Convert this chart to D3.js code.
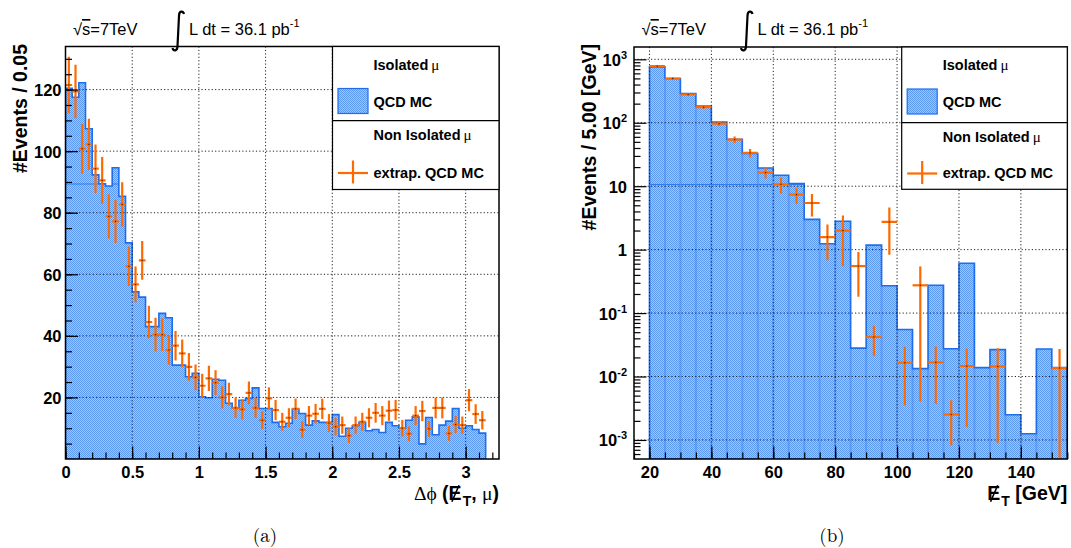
<!DOCTYPE html>
<html><head><meta charset="utf-8">
<script src="https://cdn.jsdelivr.net/npm/d3@7"></script>
<style>body{margin:0;background:#fff}svg{display:block}</style>
</head><body>
<svg id="c" width="1071" height="548"></svg>
<script>
// ---- Δφ(MET, μ): 63 bins of width 0.05 starting at 0 ----
const dphiLow = 0, dphiBinWidth = 0.05;
const dphiMC = [120.4,117.5,122.2,107.3,92.3,89.4,88.7,94.6,85.3,70.2,
  54.3,52.6,43,43,47.3,45.9,30.5,30.5,26.7,27.8,
  20.2,19.9,25.9,25.6,18.1,16.6,19.1,19.7,23.1,16.4,
  16.4,11.9,10.5,11.6,16.2,14.8,11,12.4,11.9,11.9,
  14.4,7.4,10,10.8,11.9,9.2,9.6,8.6,11.9,10.8,
  10,12.6,13.7,4.9,13.5,7.9,11,12.3,16.4,10,
  10.8,9.6,8.4];
const dphiExtrap = [121.5,119.4,100.8,102.2,94.3,90.5,78.8,77.2,82.7,62.6,
  56.7,64.5,44.5,40.4,40.4,35.4,36.8,34.3,29.9,26.5,
  23.8,26.2,24.8,20,21.1,16.6,16.1,21.5,16.6,12.6,
  19.7,15.9,12.1,13.4,16.3,9.5,14.1,14.7,16.3,11.7,
  10.5,11,7.6,11,12.1,13.4,15,14.1,15.7,15.9,
  10,8.2,14.1,15.6,9.8,16.6,16.6,8.3,11.2,11,
  19.1,14.6,12.6];
const dphiExtrapErr = [9.2,8.7,8.1,8.3,7.9,7.6,7.2,7,7.2,6.4,
  5.8,6.3,5.3,5.5,5.3,4.8,4.8,4.5,4.5,4.2,
  3.9,4.1,4,3.6,3.7,3.3,3.3,3.7,3.3,2.9,
  3.6,3.3,2.9,3.1,3.3,2.7,3.1,3.2,3.3,2.9,
  2.8,2.8,2.4,2.8,2.9,3.1,3.2,3.1,3.3,3.3,
  2.7,2.4,3.1,3.3,2.6,3.4,3.4,2.4,2.8,2.8,
  3.6,3.2,3];
const dphiMajorTicks = [0,0.5,1,1.5,2,2.5,3];
const dphiYTicks = [20,40,60,80,100,120];

// ---- MET: 27 bins of 5 GeV starting at 20 GeV ----
const metLow = 20, metBinWidth = 5;
const metMC = [759,498,289,184,103,55,32.7,19.4,14.9,11,
  3.0,1.24,2.8,0.028,1.18,0.27,0.055,0.0133,0.274,0.0274,
  0.61,0.0138,0.0265,0.0025,0.00125,0.0271,0.0138];
const metExtrap = [778,498,279,176,97,54.3,33.4,16.4,10.7,7.37,
  5.43,1.58,2.0,0.551,0.042,2.73,0.0165,0.274,0.0167,0.00252,
  0.0146,null,0.0144,null,null,null,0.0136];
const metExtrapErr = [24,19,14,11,8.5,6.3,5,3.2,3,2.1,
  2.1,0.9,1.45,0.37,0.021,1.9,0.013,0.27,0.013,0.0017,
  0.013,null,0.0135,null,null,null,0.0136];
const metMajorTicks = [20,40,60,80,100,120,140];
const metYTicks = [1e-3,1e-2,1e-1,1,10,100,1000];

const legendHeader1 = "Isolated", legendEntry1 = "QCD MC";
const legendHeader2 = "Non Isolated", legendEntry2 = "extrap. QCD MC";

const SANS = "'Liberation Sans', Arial, Helvetica, sans-serif";
const GREEK = "'Liberation Serif', 'DejaVu Serif', serif";
const BLUE = "#1e6eeb", ORANGE = "#ff6a00";

const svg = d3.select("#c");
svg.append("rect").attr("width",1071).attr("height",548).attr("fill","#fff");
const defs = svg.append("defs");
// dotted hatch fill in blue
const pat = defs.append("pattern").attr("id","qcdFill")
  .attr("patternUnits","userSpaceOnUse").attr("width",2).attr("height",2);
pat.append("rect").attr("width",2).attr("height",2).attr("fill","#a3c6f8");
pat.append("rect").attr("width",1).attr("height",1).attr("fill","#5b98ef");
pat.append("rect").attr("x",1).attr("y",1).attr("width",1).attr("height",1).attr("fill","#5b98ef");

function histPath(values, lo, w, x, y, base) {
  const p = d3.path();
  p.moveTo(x(lo), base);
  values.forEach((v, i) => {
    const yy = v > 0 ? y(v) : base;
    p.lineTo(x(lo + i * w), yy);
    p.lineTo(x(lo + (i + 1) * w), yy);
  });
  p.lineTo(x(lo + values.length * w), base);
  p.closePath();
  return p.toString();
}

function drawPanel(o) {
  const g = svg.append("g");
  const [xL, xR] = o.x.range(), [yB, yT] = o.y.range();
  const clipId = "clip" + o.id;
  defs.append("clipPath").attr("id", clipId).append("rect")
    .attr("x", xL).attr("y", yT).attr("width", xR - xL).attr("height", yB - yT);

  // MC histogram
  const d = histPath(o.mc, o.lo, o.w, o.x, o.y, yB);
  const hg = g.append("g").attr("clip-path", `url(#${clipId})`);
  hg.append("path").attr("d", d).attr("fill", "url(#qcdFill)");
  const seamClip = "seam" + o.id;
  defs.append("clipPath").attr("id", seamClip).append("path").attr("d", d);
  hg.append("line").attr("clip-path", `url(#${seamClip})`)
    .attr("x1", xL).attr("x2", xR).attr("y1", o.seam).attr("y2", o.seam)
    .attr("stroke", BLUE).attr("stroke-width", 1.2).attr("opacity", 0.8);
  if (o.binSeams) {
    hg.append("g").attr("clip-path", `url(#${seamClip})`).selectAll("line")
      .data(d3.range(o.mc.length + 1)).join("line")
      .attr("x1", i => o.x(o.lo + i * o.w)).attr("x2", i => o.x(o.lo + i * o.w))
      .attr("y1", yT).attr("y2", yB).attr("stroke", "#4a8cee").attr("stroke-width", 2).attr("opacity", 0.6);
  }
  hg.append("path").attr("d", d).attr("fill", "none").attr("stroke", BLUE)
    .attr("stroke-width", 1.6).attr("stroke-linejoin", "miter");

  // grid (dotted)
  const grid = g.append("g").attr("stroke", "#222").attr("stroke-width", 1)
    .attr("stroke-dasharray", "1.2,2.2");
  grid.selectAll(".gx").data(o.xMajor.filter(v => o.x(v) > xL + 1 && o.x(v) < xR - 1)).join("line")
    .attr("x1", v => o.x(v)).attr("x2", v => o.x(v)).attr("y1", yT).attr("y2", yB);
  grid.selectAll(".gy").data(o.yMajor).join("line")
    .attr("x1", xL).attr("x2", xR).attr("y1", v => o.y(v)).attr("y2", v => o.y(v));

  // extrapolated points with error bars
  const pts = o.ex.map((v, i) => ({ v, e: o.err[i], i })).filter(p => p.v !== null);
  const pg = g.append("g").attr("clip-path", `url(#${clipId})`)
    .attr("stroke", ORANGE).attr("stroke-width", 2.2);
  pts.forEach(p => {
    const xc = o.x(o.lo + (p.i + 0.5) * o.w);
    const lo = p.v - p.e;
    pg.append("line").attr("x1", xc).attr("x2", xc)
      .attr("y1", lo > 0 ? o.y(lo) : yB).attr("y2", o.y(p.v + p.e));
    pg.append("line").attr("x1", o.x(o.lo + p.i * o.w)).attr("x2", o.x(o.lo + (p.i + 1) * o.w))
      .attr("y1", o.y(p.v)).attr("y2", o.y(p.v));
    g.append("rect").attr("x", xc - 0.6).attr("y", o.y(p.v) - 0.6).attr("width", 1.2).attr("height", 1.2)
      .attr("fill", "#402010");
  });

  // axes: ticks inside the frame, labels outside
  const ax = g.append("g").attr("transform", `translate(0,${yB})`)
    .call(d3.axisBottom(o.x).tickValues(o.xMinor).tickSize(-6.5).tickFormat(""));
  ax.select(".domain").remove();
  const axM = g.append("g").attr("transform", `translate(0,${yB})`)
    .call(d3.axisBottom(o.x).tickValues(o.xMajor).tickSize(-12.5).tickPadding(7).tickFormat(o.xFmt));
  axM.select(".domain").remove();
  axM.selectAll("text").attr("font-family", SANS).attr("font-weight", "bold")
    .attr("font-size", 16.5).attr("fill", "#000").attr("dy", "0.71em");

  const ay = g.append("g").attr("transform", `translate(${xL},0)`)
    .call(d3.axisLeft(o.y).tickValues(o.yMinor).tickSize(-6.5).tickFormat(""));
  ay.select(".domain").remove();
  const ayM = g.append("g").attr("transform", `translate(${xL},0)`)
    .call(d3.axisLeft(o.y).tickValues(o.yMajor).tickSize(-12.5).tickPadding(o.yPad).tickFormat(""));
  ayM.select(".domain").remove();
  g.selectAll(".tick line").attr("stroke", "#000").attr("stroke-width", 1.2);
  ayM.selectAll(".tick").each(function (v) {
    const t = d3.select(this).append("text").attr("x", -o.yPad).attr("dy", "0.36em")
      .attr("text-anchor", "end").attr("font-family", SANS).attr("font-weight", "bold")
      .attr("font-size", 16.5).attr("fill", "#000");
    o.yLabel(t, v);
  });

  // frame
  g.append("rect").attr("x", xL).attr("y", yT).attr("width", xR - xL).attr("height", yB - yT)
    .attr("fill", "none").attr("stroke", "#000").attr("stroke-width", 1.5);

  // legend
  const L = o.legend;
  const lg = g.append("g");
  lg.append("rect").attr("x", L.x).attr("y", L.y).attr("width", L.w).attr("height", L.h)
    .attr("fill", "#fff").attr("stroke", "#000").attr("stroke-width", 1.2);
  lg.append("line").attr("x1", L.x).attr("x2", L.x + L.w).attr("y1", L.div).attr("y2", L.div)
    .attr("stroke", "#000").attr("stroke-width", 1.2);
  const lt = (y, s, mu) => {
    const t = lg.append("text").attr("x", L.x + 41).attr("y", y).attr("font-family", SANS)
      .attr("font-weight", "bold").attr("font-size", 14.5).attr("fill", "#000").text(s);
    if (mu) t.append("tspan").attr("font-family", GREEK).attr("font-weight", "normal")
      .attr("font-size", 15).attr("dx", 3).text("μ");
  };
  lt(L.y + 23, legendHeader1, true);
  lg.append("rect").attr("x", L.x + 5.5).attr("y", L.y + 42).attr("width", 30).attr("height", 25)
    .attr("fill", "url(#qcdFill)").attr("stroke", BLUE).attr("stroke-width", 1.2);
  lt(L.y + 60, legendEntry1, false);
  lt(L.div + 19.5, legendHeader2, true);
  const cy = L.y + 126.5, cx = L.x + 20.5;
  lg.append("line").attr("x1", cx - 15).attr("x2", cx + 15).attr("y1", cy).attr("y2", cy)
    .attr("stroke", ORANGE).attr("stroke-width", 2.2);
  lg.append("line").attr("x1", cx).attr("x2", cx).attr("y1", cy - 12.5).attr("y2", cy + 10.5)
    .attr("stroke", ORANGE).attr("stroke-width", 2.2);
  lt(L.y + 131, legendEntry2, false);

  // energy / luminosity header
  const tx = xL;
  const h = g.append("g").attr("font-family", SANS).attr("font-size", 16.5).attr("fill", "#000");
  const s1 = h.append("text").attr("x", tx + 7.5).attr("y", 35);
  s1.append("tspan").text("√");
  s1.append("tspan").attr("text-decoration", "overline").text("s");
  s1.append("tspan").text("=7TeV");
  g.append("path")
    .attr("d", `M${tx+118.5},${14} C${tx+117.5},${10.5} ${tx+113.5},${10.5} ${tx+113.5},${16} L${tx+112},${46} C${tx+112},${51.5} ${tx+108},${51.5} ${tx+107},${48}`)
    .attr("fill", "none").attr("stroke", "#000").attr("stroke-width", 2.2);
  const s2 = h.append("text").attr("x", tx + 123.5).attr("y", 35).text("L dt = 36.1 pb");
  s2.append("tspan").attr("font-size", 11).attr("dy", -8).text("-1");

  // axis titles
  g.append("text").attr("transform", `translate(${o.yTitleX},44) rotate(-90)`)
    .attr("text-anchor", "end").attr("font-family", SANS).attr("font-weight", "bold")
    .attr("font-size", 19.5).attr("fill", "#000").text(o.yTitle);
  const xt = g.append("text").attr("x", xR).attr("y", 500).attr("text-anchor", "end")
    .attr("font-family", SANS).attr("font-weight", "bold").attr("font-size", 19.5).attr("fill", "#000");
  o.xTitle(xt);
  // slash through the E of the missing-energy symbol
  xt.selectAll(".met-e").each(function () {
    const b = this.getBBox();
    g.append("line")
      .attr("x1", b.x + b.width * 0.25).attr("y1", b.y + b.height * 0.9)
      .attr("x2", b.x + b.width * 0.8).attr("y2", b.y + b.height * 0.15)
      .attr("stroke", "#000").attr("stroke-width", 1.6);
  });

  // caption
  svg.append("text").attr("x", o.capX).attr("y", 542).attr("text-anchor", "middle")
    .attr("font-family", "'Latin Modern Roman','Liberation Serif',serif").attr("font-size", 19)
    .attr("fill", "#000").text(o.caption);
}

function metSymbol(t) {
  t.append("tspan").attr("class", "met-e").text("E");
  t.append("tspan").attr("dx", 1).attr("font-size", 14).attr("dy", 6).text("T");
}

// panel (a): Δφ between MET and muon
const xA = d3.scaleLinear([0, 3.25], [65.5, 499]);
const yA = d3.scaleLinear([0, 134], [459, 46.5]);
drawPanel({
  id: "a", x: xA, y: yA, lo: dphiLow, w: dphiBinWidth,
  mc: dphiMC, ex: dphiExtrap, err: dphiExtrapErr,
  xMajor: dphiMajorTicks, xMinor: d3.range(0, 33).map(i => i / 10),
  xFmt: d => String(d),
  yMajor: dphiYTicks, yMinor: d3.range(5, 134, 5), yPad: 4,
  yLabel: (t, v) => t.text(v),
  seam: 184, binSeams: false,
  legend: { x: 332.5, y: 46.5, w: 166.5, h: 143, div: 120.7 },
  yTitleX: 27, yTitle: "#Events / 0.05",
  xTitle: t => {
    t.append("tspan").attr("font-family", GREEK).attr("font-weight", "normal").text("Δϕ");
    t.append("tspan").text(" (");
    metSymbol(t);
    t.append("tspan").attr("dy", -6).text(", ");
    t.append("tspan").attr("font-family", GREEK).attr("font-weight", "normal").text("μ");
    t.append("tspan").text(")");
  },
  capX: 265, caption: "(a)"
});

// panel (b): missing transverse energy, log scale
const xB = d3.scaleLinear([15, 155], [634, 1067.3]);
const yB = d3.scaleLog([Math.pow(10, -3.3), Math.pow(10, 3.194)], [459, 47]).clamp(true);
const metMinor = [];
for (let e = -4; e <= 3; e++) for (let k = 2; k <= 9; k++) {
  const v = k * Math.pow(10, e);
  if (v > yB.domain()[0] && v < yB.domain()[1]) metMinor.push(v);
}
drawPanel({
  id: "b", x: xB, y: yB, lo: metLow, w: metBinWidth,
  mc: metMC, ex: metExtrap, err: metExtrapErr,
  xMajor: metMajorTicks, xMinor: d3.range(15, 156, 5),
  xFmt: d => String(d),
  yMajor: metYTicks, yMinor: metMinor, yPad: 7,
  yLabel: (t, v) => {
    const e = Math.round(Math.log10(v));
    if (e === 0) t.text("1");
    else if (e === 1) t.text("10");
    else { t.text("10"); t.append("tspan").attr("font-size", 11).attr("dy", -7).text(String(e)); }
  },
  seam: 184.5, binSeams: true,
  legend: { x: 901.7, y: 47, w: 165.6, h: 142.3, div: 122.7 },
  yTitleX: 596, yTitle: "#Events / 5.00 [GeV]",
  xTitle: t => {
    metSymbol(t);
    t.append("tspan").attr("dy", -6).text(" [GeV]");
  },
  capX: 832, caption: "(b)"
});
</script>
</body></html>
